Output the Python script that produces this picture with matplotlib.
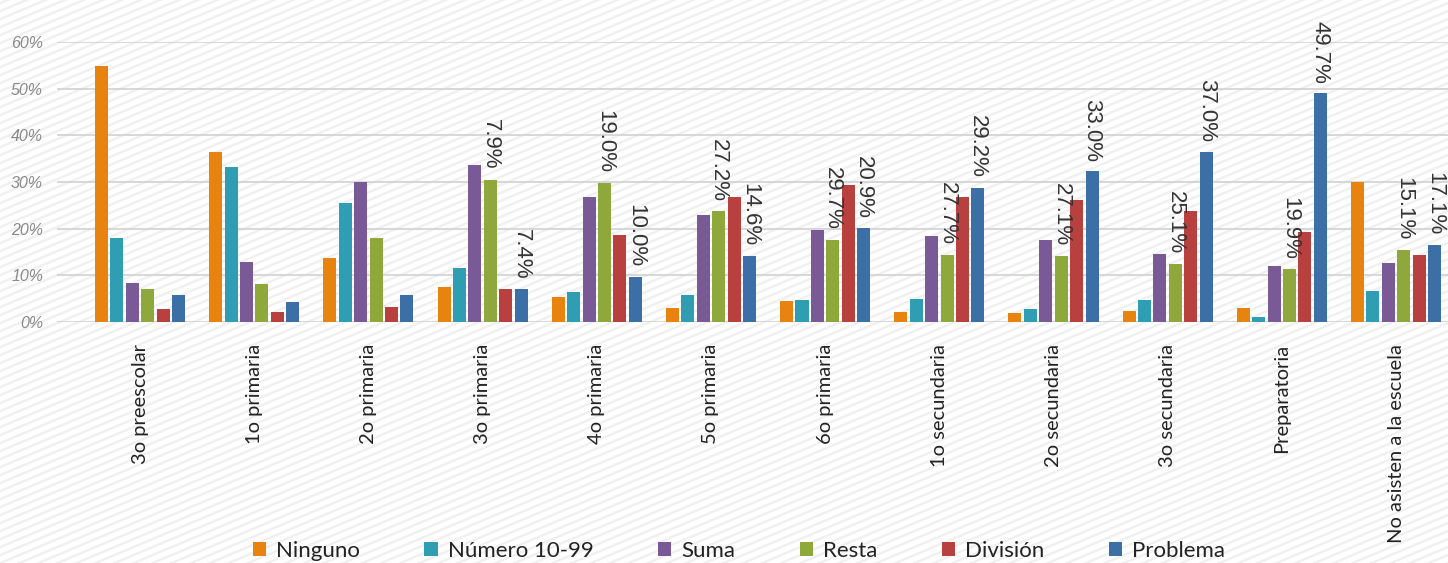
import numpy as np
import matplotlib.pyplot as plt
from matplotlib.lines import Line2D
from matplotlib.ticker import PercentFormatter

categorias = ['3o preescolar', '1o primaria', '2o primaria', '3o primaria', '4o primaria',
              '5o primaria', '6o primaria', '1o secundaria', '2o secundaria', '3o secundaria',
              'Preparatoria', 'No asisten a la escuela']
series = ['Ninguno', 'Número 10-99', 'Suma', 'Resta', 'División', 'Problema']

ninguno = [54.9, 36.5, 13.8, 7.5, 5.3, 3.0, 4.4, 2.2, 2.0, 2.3, 2.9, 30.0]
numero = [18.0, 33.2, 25.6, 11.5, 6.5, 5.7, 4.8, 5.0, 2.8, 4.7, 1.1, 6.7]
suma = [8.3, 12.8, 30.1, 33.6, 26.7, 22.9, 19.7, 18.4, 17.6, 14.6, 11.9, 12.6]
resta = [7.1, 8.2, 18.1, 30.5, 29.8, 23.7, 17.6, 14.4, 14.2, 12.5, 11.3, 15.5]
division = [2.8, 2.1, 3.2, 7.1, 18.6, 26.7, 29.4, 26.8, 26.1, 23.8, 19.2, 14.4]
problema = [5.7, 4.3, 5.8, 7.1, 9.7, 14.2, 20.1, 28.8, 32.3, 36.4, 49.0, 16.5]

# etiquetas tal como aparecen en la imagen
etq_resta = [None, None, None, '7.9%', '19.0%', '27.2%', '29.7%', '27.7%', '27.1%', '25.1%', '19.9%', '15.1%']
etq_problema = [None, None, None, '7.4%', '10.0%', '14.6%', '20.9%', '29.2%', '33.0%', '37.0%', '49.7%', '17.1%']

colores = ['#E8830F', '#2F9DB2', '#7A5A96', '#8FA83B', '#B8403F', '#3B6FA6']

W, H = 1448, 563
fig = plt.figure(figsize=(W / 100, H / 100), dpi=100)
fig.patch.set_facecolor('white')

# fondo rayado diagonal
slope = 0.42
for c in np.arange(-slope * W, H + 10, 8):
    fig.add_artist(Line2D([0, 1], [c / H, (c + slope * W) / H], transform=fig.transFigure,
                          color='#f0f0f0', lw=1.7, zorder=-5))

ax = fig.add_axes([57 / W, 1 - 322 / H, 1 - 57 / W, (322 - 42) / H])
ax.set_facecolor('none')

x = np.arange(len(categorias))
step, ancho = 0.135, 0.114
datos = [ninguno, numero, suma, resta, division, problema]
barras = []
for k, (vals, col, nom) in enumerate(zip(datos, colores, series)):
    b = ax.bar(x + (k - 2.5) * step, vals, ancho, color=col, label=nom, zorder=3)
    barras.append(b)

for etqs, b in [(etq_resta, barras[3]), (etq_problema, barras[5])]:
    for txt, rect in zip(etqs, b):
        if txt is None:
            continue
        ax.annotate(txt, (rect.get_x() + rect.get_width() / 2, rect.get_height()),
                    xytext=(0, 7), textcoords='offset points', rotation=270,
                    ha='center', va='bottom', fontsize=16, color='#333333',
                    family='Liberation Sans', annotation_clip=False, zorder=4)

ax.set_xlim(-0.727, 11.455)
ax.set_ylim(0, 60)
ax.set_yticks(np.arange(0, 61, 10))
ax.yaxis.set_major_formatter(PercentFormatter(100, decimals=0))
ax.grid(axis='y', color='#d4d4d4', lw=1.3, zorder=0)
for s in ax.spines.values():
    s.set_visible(False)

ax.set_xticks(x)
ax.set_xticklabels(categorias, rotation=90, family='Lato', fontsize=14.5, color='#222222')
ax.tick_params(axis='x', length=0, pad=16)
ax.tick_params(axis='y', length=0, pad=10)
for t in ax.get_yticklabels():
    t.set_family('Liberation Sans')
    t.set_style('italic')
    t.set_fontsize(11.5)
    t.set_color('#8a8a8a')

leg = fig.legend(loc='center', bbox_to_anchor=(739 / W, 1 - 551 / H), ncol=6, frameon=False,
                 prop={'family': 'Lato', 'size': 16}, handlelength=0.6, handleheight=0.6,
                 handletextpad=0.45, columnspacing=2.9, borderpad=0)
for t in leg.get_texts():
    t.set_color('#222222')

fig.savefig('out.png', dpi=100)
